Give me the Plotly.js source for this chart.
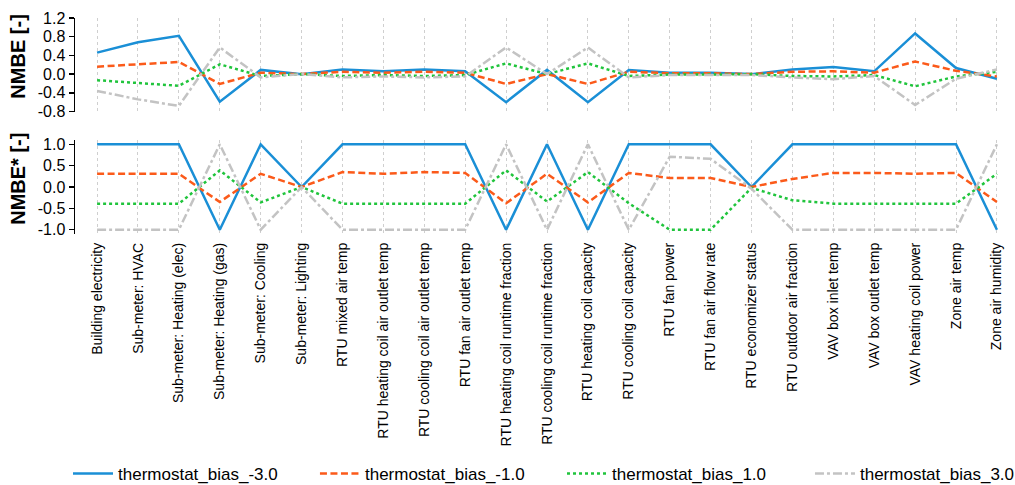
<!DOCTYPE html>
<html>
<head>
<meta charset="utf-8">
<script src="https://cdn.plot.ly/plotly-3.0.1.min.js"></script>
<style>html,body{margin:0;padding:0;background:#fff;}#chart{width:1015px;height:485px;}</style>
</head>
<body>
<div id="chart"></div>
<script>
var categories = ["Building electricity","Sub-meter: HVAC","Sub-meter: Heating (elec)","Sub-meter: Heating (gas)","Sub-meter: Cooling","Sub-meter: Lighting","RTU mixed air temp","RTU heating coil air outlet temp","RTU cooling coil air outlet temp","RTU fan air outlet temp","RTU heating coil runtime fraction","RTU cooling coil runtime fraction","RTU heating coil capacity","RTU cooling coil capacity","RTU fan power","RTU fan air flow rate","RTU economizer status","RTU outdoor air fraction","VAV box inlet temp","VAV box outlet temp","VAV heating coil power","Zone air temp","Zone air humidity"];
var seriesNames = ["thermostat_bias_-3.0","thermostat_bias_-1.0","thermostat_bias_1.0","thermostat_bias_3.0"];

// NMBE [-]
var nmbe_m30 = [0.46,0.68,0.82,-0.59,0.09,0.0,0.10,0.06,0.10,0.06,-0.60,0.09,-0.60,0.09,0.03,0.03,0.0,0.10,0.15,0.06,0.87,0.13,-0.10];
var nmbe_m10 = [0.16,0.21,0.26,-0.21,0.03,0.0,0.05,0.03,0.05,0.03,-0.21,0.0,-0.21,0.05,0.02,0.02,0.0,0.05,0.06,0.03,0.27,0.07,-0.05];
var nmbe_p10 = [-0.13,-0.19,-0.25,0.21,-0.04,0.0,-0.04,-0.02,-0.04,-0.02,0.23,0.0,0.23,-0.04,-0.01,-0.01,0.0,-0.04,-0.05,-0.02,-0.26,-0.05,0.05];
var nmbe_p30 = [-0.36,-0.54,-0.68,0.57,-0.07,0.0,-0.07,-0.05,-0.07,-0.05,0.57,0.0,0.57,-0.07,-0.02,-0.02,-0.02,-0.07,-0.11,-0.04,-0.66,-0.10,0.10];

// NMBE* [-]
var nmbes_m30 = [1,1,1,-1,1,0,1,1,1,1,-1,1,-1,1,1,1,0,1,1,1,1,1,-1];
var nmbes_m10 = [0.31,0.31,0.31,-0.35,0.31,0.0,0.35,0.31,0.35,0.33,-0.38,0.31,-0.36,0.33,0.21,0.21,0.0,0.19,0.33,0.33,0.31,0.33,-0.35];
var nmbes_p10 = [-0.39,-0.39,-0.39,0.39,-0.36,0.0,-0.39,-0.39,-0.39,-0.39,0.39,-0.34,0.35,-0.38,-1.0,-1.0,-0.02,-0.31,-0.39,-0.39,-0.39,-0.39,0.31];
var nmbes_p30 = [-1,-1,-1,1,-1,0,-1,-1,-1,-1,1,-1,1,-1,0.71,0.66,-0.04,-1,-1,-1,-1,-1,1];

var colors = ["#1a8fd6","#fb5a1a","#20c43c","#c3c3c3"];
var dashes = ["solid","7px,3.5px","dot","dashdot"];
var topData = [nmbe_m30,nmbe_m10,nmbe_p10,nmbe_p30];
var botData = [nmbes_m30,nmbes_m10,nmbes_p10,nmbes_p30];
var legendIds = ['legend','legend2','legend3','legend4'];

var traces = [];
for (var i=0;i<4;i++){
  traces.push({x:categories,y:topData[i],type:'scatter',mode:'lines',name:seriesNames[i],
    line:{color:colors[i],dash:dashes[i],width:2.5},xaxis:'x',yaxis:'y',showlegend:true,legend:legendIds[i],legendgroup:'g'+i});
}
for (var i=0;i<4;i++){
  traces.push({x:categories,y:botData[i],type:'scatter',mode:'lines',name:seriesNames[i],
    line:{color:colors[i],dash:dashes[i],width:2.5},xaxis:'x2',yaxis:'y2',showlegend:false,legendgroup:'g'+i});
}

var font = 'Arial, "Liberation Sans", sans-serif';
function mkLegend(x){
  return {orientation:'h',xref:'container',yref:'container',x:x,xanchor:'left',y:0.0227,yanchor:'middle',bgcolor:'rgba(0,0,0,0)',
    itemwidth:40,font:{size:17,family:font}};
}
var xbase = {type:'category',range:[-0.54,22.1],showgrid:true,gridcolor:'#cfcfcf',griddash:'dot',gridwidth:1,
  showline:false,ticks:'',zeroline:false,fixedrange:true};
var layout = {
  width:1015,height:485,
  margin:{l:75,r:14,t:18,b:251,autoexpand:false},
  paper_bgcolor:'#fff',plot_bgcolor:'#fff',
  font:{family:font,color:'#000',size:14},
  showlegend:true,
  legend:mkLegend(0.067),
  legend2:mkLegend(0.3103),
  legend3:mkLegend(0.5537),
  legend4:mkLegend(0.798),
  xaxis:Object.assign({},xbase,{anchor:'y',showticklabels:false,matches:'x2'}),
  xaxis2:Object.assign({},xbase,{anchor:'y2',showticklabels:true,tickangle:-90,ticklabelstandoff:5,tickfont:{size:14,family:font}}),
  yaxis:{domain:[0.567,1.0],range:[-0.8,1.2],tickvals:[-0.8,-0.4,0,0.4,0.8,1.2],ticktext:['-0.8','-0.4','0.0','0.4','0.8','1.2'],
    showgrid:false,zeroline:false,showline:true,linecolor:'#000',linewidth:1.5,ticks:'outside',ticklen:5,tickwidth:1.5,tickcolor:'#000',
    tickfont:{size:16,family:font},title:{text:'<b>&nbsp;&nbsp;&nbsp;NMBE [-]</b>',font:{size:20,family:font},standoff:6},fixedrange:true},
  yaxis2:{domain:[0,0.435],range:[-1.1,1.1],tickvals:[-1,-0.5,0,0.5,1],ticktext:['-1.0','-0.5','0.0','0.5','1.0'],
    showgrid:false,zeroline:false,showline:true,linecolor:'#000',linewidth:1.5,ticks:'outside',ticklen:5,tickwidth:1.5,tickcolor:'#000',
    tickfont:{size:16,family:font},title:{text:'<b>&nbsp;&nbsp;&nbsp;NMBE* [-]</b>',font:{size:20,family:font},standoff:6},fixedrange:true}
};
Plotly.newPlot('chart',traces,layout,{displayModeBar:false,staticPlot:true});
</script>
</body>
</html>
